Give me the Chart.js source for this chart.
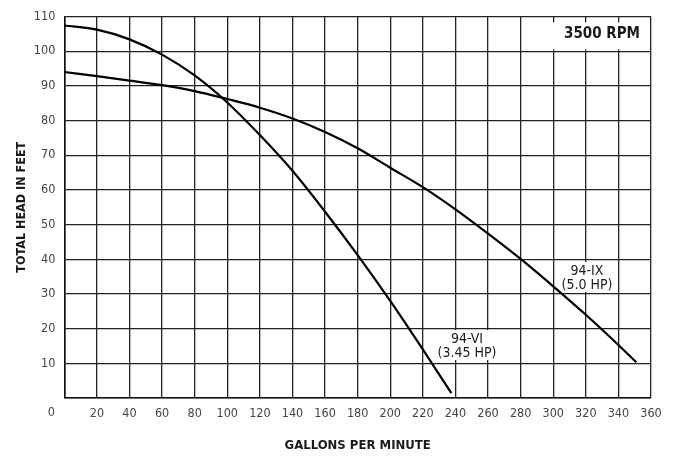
<!DOCTYPE html>
<html>
<head>
<meta charset="utf-8">
<script src="https://cdn.jsdelivr.net/npm/chart.js@4.4.1/dist/chart.umd.min.js"></script>
<style>
    html, body { margin: 0; padding: 0; background: #fff; }
    #wrap { width: 677px; height: 456px; }
</style>
</head>
<body>
<div id="wrap"><canvas id="pump-chart"></canvas></div>
<script>
// --- Data (GPM vs total head, ft) ---
const gpm94IX  = [0, 20, 40, 60, 80, 100, 120, 140, 160, 180, 200, 220, 240, 260, 280, 300, 320, 340, 351];
const head94IX = [94.0, 92.8, 91.5, 90.2, 88.5, 86.2, 83.7, 80.6, 76.7, 72.0, 66.4, 60.8, 54.4, 47.4, 40.1, 32.2, 24.0, 15.3, 10.3];

const gpm94VI  = [0, 20, 40, 60, 80, 100, 120, 140, 160, 180, 200, 220, 237.5];
const head94VI = [107.4, 106.2, 103.4, 99.0, 93.0, 85.2, 75.8, 65.5, 53.7, 41.2, 28.0, 14.0, 1.4];

const xTicks = { min: 0, max: 360, step: 20 };
const yTicks = { min: 0, max: 110, step: 10 };

const curveLabels = [
    { lines: ['94-IX', '(5.0 HP)'], x: 587, y: 271 },
    { lines: ['94-VI', '(3.45 HP)'], x: 467, y: 339 },
];

const FONT = "'DejaVu Sans Condensed', 'Liberation Sans Narrow', 'Open Sans', sans-serif";

const toPoints = (xs, ys) => xs.map((x, i) => ({ x, y: ys[i] }));

// --- Annotations: RPM box, curve names and the shared "0" ---
const labelsPlugin = {
    id: 'labels',
    beforeDatasetsDraw(chart) {
        const { ctx } = chart;
        const xs = chart.scales.x, ys = chart.scales.y;
        ctx.save();
        ctx.fillStyle = '#fff';
        ctx.fillRect(xs.getPixelForValue(294), ys.getPixelForValue(108.3), xs.getPixelForValue(356) - xs.getPixelForValue(294), 27);
        curveLabels.forEach(l => {
            ctx.font = `14px ${FONT}`;
            const w = Math.max(...l.lines.map(t => ctx.measureText(t).width)) + 4;
            ctx.fillRect(l.x - w / 2, l.y - 9, w, 30);
        });
        ctx.restore();
    },
    afterDatasetsDraw(chart) {
        const { ctx } = chart;
        ctx.save();
        ctx.fillStyle = '#1a1a1a';
        ctx.textAlign = 'center';
        ctx.textBaseline = 'middle';
        ctx.font = `bold 15px ${FONT}`;
        ctx.fillText('3500 RPM', 602, 34);
        ctx.font = `14px ${FONT}`;
        curveLabels.forEach(l => {
            l.lines.forEach((t, i) => ctx.fillText(t, l.x, l.y + i * 14.5));
        });
        ctx.fillStyle = '#444';
        ctx.font = `12.5px ${FONT}`;
        ctx.textAlign = 'right';
        ctx.fillText('0', 55, 413);
        ctx.restore();
    }
};

new Chart(document.getElementById('pump-chart'), {
    type: 'line',
    data: {
        datasets: [
            {
                label: '94-IX (5.0 HP)',
                data: toPoints(gpm94IX, head94IX),
                borderColor: '#000',
                borderWidth: 2.2,
                pointRadius: 0,
                cubicInterpolationMode: 'monotone',
            },
            {
                label: '94-VI (3.45 HP)',
                data: toPoints(gpm94VI, head94VI),
                borderColor: '#000',
                borderWidth: 2.2,
                pointRadius: 0,
                cubicInterpolationMode: 'monotone',
            }
        ]
    },
    options: {
        responsive: true,
        maintainAspectRatio: false,
        animation: false,
        layout: { padding: { top: 16, right: 26, left: 0, bottom: 0 } },
        plugins: { legend: { display: false }, tooltip: { enabled: false } },
        scales: {
            x: {
                type: 'linear',
                min: xTicks.min, max: xTicks.max,
                afterFit: s => { s.height = 58; },
                grid: { color: '#222', lineWidth: 1.3, drawTicks: false },
                border: { color: '#111', width: 1.6 },
                ticks: {
                    stepSize: xTicks.step, autoSkip: false, maxRotation: 0, padding: 8,
                    color: '#444', font: { size: 12.5, family: FONT },
                    callback: v => v === 0 ? '' : v,
                },
                title: {
                    display: true, text: 'GALLONS PER MINUTE', color: '#1a1a1a',
                    font: { size: 13, weight: 'bold', family: FONT },
                    padding: { top: 0, bottom: 3 },
                }
            },
            y: {
                min: yTicks.min, max: yTicks.max,
                afterFit: s => { s.width = 64.3; },
                grid: { color: '#222', lineWidth: 1.3, drawTicks: false },
                border: { color: '#111', width: 1.6 },
                ticks: {
                    stepSize: yTicks.step, padding: 9,
                    color: '#444', font: { size: 12.5, family: FONT },
                    callback: v => v === 0 ? '' : v,
                },
                title: {
                    display: true, text: 'TOTAL HEAD IN FEET', color: '#1a1a1a',
                    font: { size: 12.5, weight: 'bold', family: FONT },
                    padding: { top: 14, bottom: 0 },
                }
            }
        }
    },
    plugins: [labelsPlugin]
});
</script>
</body>
</html>
